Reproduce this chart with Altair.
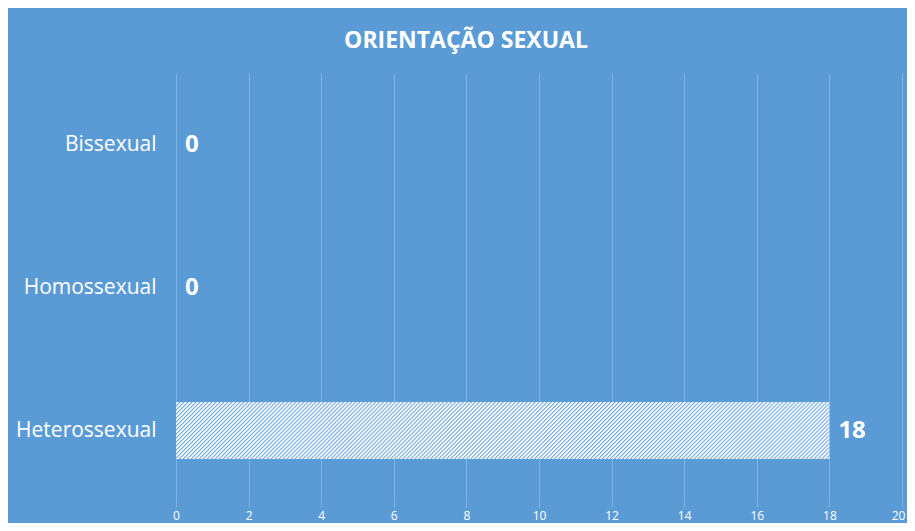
import altair as alt
import pandas as pd

categories = ["Bissexual", "Homossexual", "Heterossexual"]
values = [0, 0, 18]
x_ticks = [0, 2, 4, 6, 8, 10, 12, 14, 16, 18, 20]

df = pd.DataFrame({"cat": categories, "val": values})

BG = "#5B9BD5"
GRID = "#82B4E2"
STRIPE = "#6FA7DC"

# diagonal hatch via soft-stop linear gradient (style only)
N = 178
stops = []
for i in range(N):
    a = i / N
    stops += [
        alt.GradientStop(color=STRIPE, offset=a),
        alt.GradientStop(color="#FFFFFF", offset=(i + 0.5) / N),
        alt.GradientStop(color="#FFFFFF", offset=(i + 0.72) / N),
    ]
stops.append(alt.GradientStop(color=STRIPE, offset=1))
hatch = alt.LinearGradient(gradient="linear", stops=stops, x1=0, y1=0, x2=1.0791, y2=0.0942)

x_enc = alt.X(
    "val:Q",
    scale=alt.Scale(domain=[0, 20], nice=False),
    axis=alt.Axis(
        values=x_ticks, title=None, grid=True, gridColor=GRID, gridWidth=1,
        domain=False, ticks=True, tickColor=GRID, tickSize=5,
        labelColor="white", labelFontSize=12, labelFont="Open Sans",
        labelPadding=3, labelFlush=False,
        labelOffset=alt.condition("datum.value == 20", alt.value(-4), alt.value(0)),
    ),
)
y_enc = alt.Y(
    "cat:N",
    sort=categories,
    scale=alt.Scale(paddingInner=0.6, paddingOuter=0.3),
    axis=alt.Axis(
        title=None, domain=False, ticks=False, grid=False,
        labelColor="white", labelFontSize=21, labelFont="Open Sans",
        labelPadding=20,
    ),
)

bars = alt.Chart(df).mark_bar(fill=hatch, stroke=None).encode(x=x_enc, y=y_enc)
labels = alt.Chart(df).mark_text(
    align="left", baseline="middle", dx=9, fontSize=24, fontWeight="bold",
    font="Open Sans", color="white",
).encode(x=alt.X("val:Q"), y=alt.Y("cat:N", sort=categories), text="val:Q")

chart = (
    alt.layer(bars, labels)
    .properties(
        width=726,
        height=429,
        autosize=alt.AutoSizeParams(type="none"),
        padding={"left": 168, "top": 65, "right": 5, "bottom": 21},
        background=BG,
        title=alt.TitleParams(
            "ORIENTAÇÃO SEXUAL", color="white", fontSize=23, fontWeight="bold",
            font="Open Sans", anchor="middle", dx=-73, offset=20,
        ),
    )
    .configure_view(stroke=None)
)

chart.save("out.html", embed_options={"renderer": "svg", "actions": False})
